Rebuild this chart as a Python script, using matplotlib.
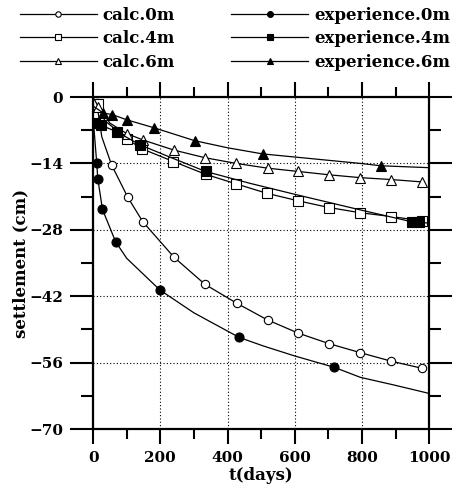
# -----------------------------
# Import necessary libraries
# -----------------------------
import matplotlib
matplotlib.use("Agg")
import matplotlib.pyplot as plt
from matplotlib.ticker import MultipleLocator

# -----------------------------
# Data (t in days, settlement in cm)
# -----------------------------
t_calc0 = [11, 26, 55, 103, 148, 241, 333, 428, 519, 611, 702, 795, 887, 979]
s_calc0 = [-1.3, -8.4, -14.3, -21.1, -26.3, -33.8, -39.5, -43.5, -47.0, -49.8, -52.0, -53.9, -55.7, -57.2]
mk_calc0 = [0, 2, 3, 4, 5, 6, 7, 8, 9, 10, 11, 12, 13]

t_calc4 = [4, 14, 35, 70, 100, 145, 239, 335, 425, 517, 611, 702, 795, 887, 979]
s_calc4 = [-0.5, -1.5, -5.0, -7.0, -8.8, -10.9, -13.6, -16.3, -18.3, -20.3, -21.9, -23.3, -24.4, -25.2, -26.1]
mk_calc4 = [1, 4, 5, 6, 7, 8, 9, 10, 11, 12, 13, 14]

t_calc6 = [4, 15, 50, 100, 150, 241, 333, 426, 519, 611, 702, 795, 887, 979]
s_calc6 = [-0.5, -2.0, -5.5, -7.7, -9.1, -11.2, -12.8, -14.0, -15.0, -15.7, -16.4, -17.0, -17.4, -17.9]
mk_calc6 = [1, 3, 4, 5, 6, 7, 8, 9, 10, 11, 12, 13]

t_exp0 = [2, 11, 14, 28, 67, 100, 199, 300, 435, 507, 600, 718, 795, 894, 1000]
s_exp0 = [-6.0, -14.0, -17.2, -23.7, -30.5, -34.0, -40.7, -45.5, -50.7, -52.5, -54.6, -57.0, -59.1, -60.7, -62.5]
mk_exp0 = [1, 2, 3, 4, 6, 8, 11]

t_exp4 = [1, 7, 25, 70, 140, 240, 335, 467, 611, 795, 948, 970, 1000]
s_exp4 = [-4.5, -5.5, -6.0, -7.3, -10.1, -13.0, -15.7, -18.2, -20.7, -23.8, -26.3, -26.4, -26.6]
mk_exp4 = [1, 2, 3, 4, 6, 10, 11]

t_exp6 = [2, 31, 57, 100, 182, 302, 400, 505, 607, 795, 857, 1000]
s_exp6 = [-2.0, -3.4, -3.7, -4.8, -6.5, -9.2, -10.7, -12.0, -12.7, -14.0, -14.5, -14.9]
mk_exp6 = [1, 2, 3, 4, 5, 7, 10]

# -----------------------------
# Plot styles for every series
# -----------------------------
series = [
    ('calc.0m', t_calc0, s_calc0, mk_calc0, 'o', 'white', 6.0),
    ('calc.4m', t_calc4, s_calc4, mk_calc4, 's', 'white', 6.5),
    ('calc.6m', t_calc6, s_calc6, mk_calc6, '^', 'white', 6.5),
    ('experience.0m', t_exp0, s_exp0, mk_exp0, 'o', 'black', 6.5),
    ('experience.4m', t_exp4, s_exp4, mk_exp4, 's', 'black', 6.5),
    ('experience.6m', t_exp6, s_exp6, mk_exp6, '^', 'black', 6.5),
]

plt.rcParams['font.family'] = 'DejaVu Serif'
plt.rcParams['font.weight'] = 'bold'

fig = plt.figure(figsize=(4.63, 4.95), dpi=100)
ax = fig.add_axes([0.201, 0.1333, 0.726, 0.6707])

for name, t, s, mk, m, fc, ms in series:
    ax.plot(t, s, color='black', linewidth=0.9, marker=m, markevery=mk,
            markersize=ms, markerfacecolor=fc, markeredgecolor='black',
            markeredgewidth=0.8, label=name)

# -----------------------------
# Axes, ticks and grid
# -----------------------------
ax.set_xlim(0, 1000)
ax.set_ylim(-70, 0)
ax.xaxis.set_major_locator(MultipleLocator(200))
ax.xaxis.set_minor_locator(MultipleLocator(100))
ax.yaxis.set_major_locator(MultipleLocator(14))
ax.yaxis.set_minor_locator(MultipleLocator(7))

ax.tick_params(axis='both', which='both', direction='out', width=1.5,
               top=True, right=True, labelsize=11)
ax.tick_params(axis='y', which='major', length=16.5, pad=5)
ax.tick_params(axis='y', which='minor', length=8.5)
ax.tick_params(axis='x', which='major', length=11, pad=5)
ax.tick_params(axis='x', which='minor', length=7.5)

for sp in ax.spines.values():
    sp.set_linewidth(1.6)

ax.grid(True, which='major', color='black', linestyle=(0, (1, 2)), linewidth=0.8)

ax.set_xlabel('t(days)', fontsize=12, fontweight='bold', labelpad=1)
ax.set_ylabel('settlement (cm)', fontsize=12, fontweight='bold', labelpad=0)

# -----------------------------
# Legend above the plot
# -----------------------------
fig.legend(loc='upper left', bbox_to_anchor=(0.043, 0.986), ncol=2,
           frameon=False, fontsize=12, handlelength=4.6, handletextpad=0.35,
           columnspacing=3.4, labelspacing=0.38, borderpad=0,
           borderaxespad=0, markerscale=0.65)

fig.savefig('out.png', dpi=100)
